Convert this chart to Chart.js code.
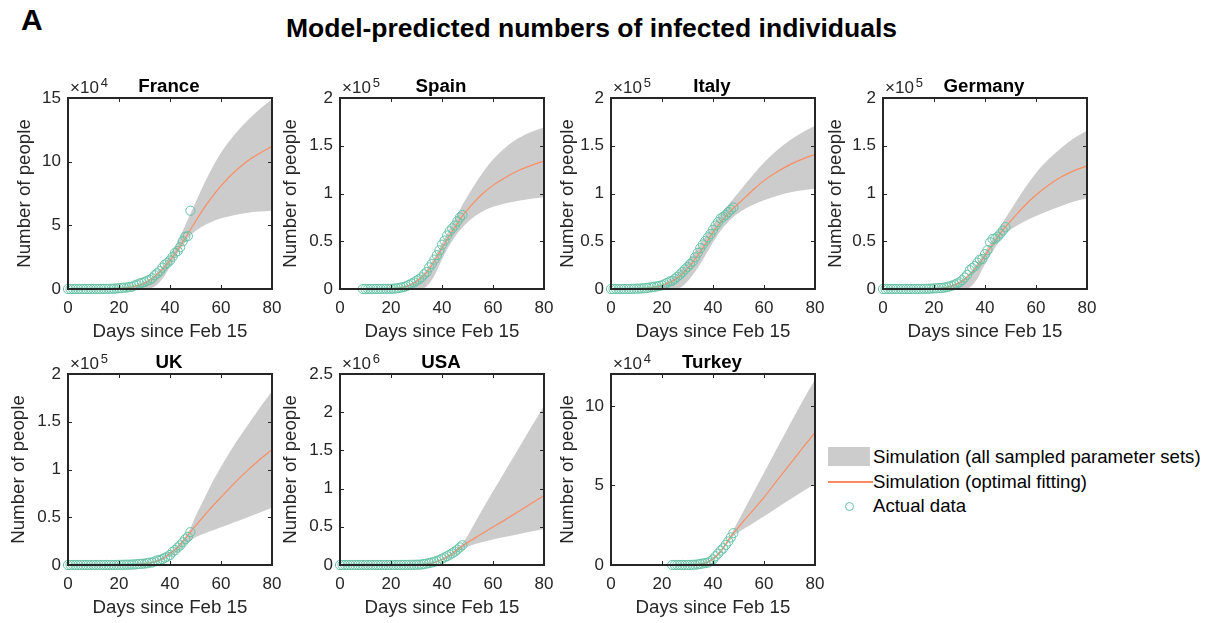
<!DOCTYPE html>
<html lang="en">
<head>
<meta charset="UTF-8">
<title>Model-predicted numbers of infected individuals</title>
<script src="https://cdn.jsdelivr.net/npm/chart.js"></script>
<style>
  body { margin: 0; background: #fff; }
  #page { position: relative; width: 1207px; height: 623px; overflow: hidden;
          font-family: 'Liberation Sans', Arial, Helvetica, sans-serif; color: #262626; }
  #page canvas { position: absolute; }
  .tag { position: absolute; left: 21px; top: 3px; font-size: 30px; line-height: 34px; font-weight: bold; color: #000; }
  .fig-title { position: absolute; left: 0; width: 1183px; top: 13px; text-align: center;
               font-size: 26.5px; line-height: 30px; font-weight: bold; color: #000; }
  .legend { position: absolute; left: 828px; top: 445px; font-size: 18.6px; }
  .legend .row { position: relative; height: 24.5px; line-height: 24.5px; padding-left: 45px; white-space: nowrap; color: #000; }
  .legend .swatch { position: absolute; left: 0; top: 2px; width: 42px; height: 19px; background: #cccccc; }
  .legend .line { position: absolute; left: 0; top: 11px; width: 45px; height: 2px; background: #fc8d62; }
  .legend .dot { position: absolute; left: 17px; top: 8px; width: 7px; height: 7px; border: 1px solid #66c2a5; border-radius: 50%; }
</style>
</head>
<body>
<div id="page">
  <div class="tag">A</div>
  <div class="fig-title">Model-predicted numbers of infected individuals</div>
  <div class="legend">
    <div class="row"><span class="swatch"></span>Simulation (all sampled parameter sets)</div>
    <div class="row"><span class="line"></span>Simulation (optimal fitting)</div>
    <div class="row"><span class="dot"></span>Actual data</div>
  </div>
</div>
<script>
const FONT = "'Liberation Sans', Arial, Helvetica, sans-serif";
const AXIS_COLOR = '#262626';
const GREEN = '#66c2a5';
const ORANGE = '#fc8d62';
const BAND = '#cccccc';
const TICK_SIZE = 17;
const LABEL_SIZE = 18.7;

const dayRange = (a, b) => Array.from({length: b - a + 1}, (_, i) => a + i);

// sample days used for the simulated curves
const simDays = [0, 10, 20, 25, 28, 31, 34, 37, 40, 43, 46, 48, 50, 53, 56, 60, 65, 70, 75, 80];
const spainSimDays = [9, 15, 20, 25, 28, 31, 34, 37, 40, 43, 46, 48, 50, 53, 56, 60, 65, 70, 75, 80];
const turkeySimDays = [24, 28, 31, 34, 37, 40, 43, 46, 48, 50, 53, 56, 60, 65, 70, 75, 80];

// France
const franceDays = dayRange(0, 48);
const franceCases = [8, 8, 7, 7, 7, 7, 7, 7, 7, 24, 24, 24, 24, 44, 87, 116, 177, 194, 270, 366,
  591, 777, 1050, 1115, 1600, 1700, 2700, 3400, 4300, 4900, 5400, 6400, 7200, 8500, 10800, 12300,
  14000, 16800, 19200, 20500, 22400, 25300, 28500, 29800, 32800, 37500, 41000, 41500, 61500];
const franceFit = [0, 20, 500, 1500, 3000, 5600, 9800, 15500, 22500, 30500, 40000, 46500, 53000,
  62500, 71000, 81000, 91500, 100000, 106500, 112000];
const franceHigh = [0, 20, 600, 1800, 3500, 6500, 11000, 17500, 26500, 37500, 50000, 59000, 68000,
  81000, 93000, 107000, 120500, 131500, 141000, 149000];
const franceLow = [0, 0, 0, 0, 0, 0, 2000, 8000, 17500, 28000, 37000, 42000, 45500, 49500, 52500,
  55500, 58000, 59700, 60800, 61500];

// Spain
const spainDays = dayRange(9, 48);
const spainCases = [2, 2, 2, 2, 2, 32, 43, 81, 111, 149, 225, 268, 348, 597, 1000, 1600, 2070, 2900,
  4200, 5700, 6900, 8700, 10200, 12200, 15300, 17800, 22600, 26300, 30800, 35400, 40500, 46400,
  50700, 56000, 60400, 63500, 66500, 70900, 74900, 77500];
const spainFit = [0, 50, 300, 2000, 5000, 10000, 17500, 29000, 43000, 56000, 68500, 76500, 83000,
  92000, 100000, 108500, 117000, 124000, 129500, 134000];
const spainHigh = [0, 60, 400, 2500, 6000, 12000, 20500, 33000, 48000, 63000, 78000, 88000, 97000,
  110000, 122000, 135500, 148500, 158000, 164500, 169000];
const spainLow = [0, 0, 0, 0, 0, 0, 3000, 14000, 31000, 46000, 58000, 64500, 70000, 76500, 81500,
  86000, 89800, 92500, 94500, 96000];

// Italy
const italyDays = dayRange(0, 48);
const italyCases = [3, 3, 3, 3, 3, 3, 17, 59, 131, 216, 311, 385, 588, 821, 1049, 1577, 1835, 2263,
  2706, 3296, 3916, 5061, 6387, 7985, 8514, 10590, 12839, 14955, 17750, 20603, 23073, 26062, 28710,
  33190, 37860, 42681, 46638, 50418, 54030, 57521, 62013, 66414, 70065, 73880, 75528, 77635, 80572,
  83049, 85388];
const italyFit = [0, 300, 3500, 10000, 16000, 24500, 35000, 47000, 59500, 70000, 79000, 84500, 89500,
  97000, 104500, 113500, 122500, 130000, 136000, 141000];
const italyHigh = [0, 400, 5000, 14000, 22000, 32000, 43000, 55000, 67000, 78000, 88000, 94500,
  101000, 111000, 120500, 132500, 145000, 155500, 164000, 171000];
const italyLow = [0, 0, 0, 0, 3000, 11000, 22000, 35000, 49000, 61000, 70500, 75500, 79500, 84500,
  88500, 93000, 97500, 101000, 103500, 105000];

// Germany
const germanyDays = dayRange(0, 48);
const germanyCases = [14, 14, 14, 14, 14, 14, 14, 14, 14, 14, 14, 2, 30, 40, 63, 114, 143, 180, 246,
  466, 654, 780, 1008, 1158, 1489, 1878, 2626, 3507, 4553, 5738, 6992, 9166, 11991, 14857, 19601,
  21898, 23945, 27683, 30727, 31442, 36508, 40711, 48781, 52351, 52740, 54933, 57957, 61247, 64827];
const germanyFit = [0, 10, 300, 1800, 4000, 8000, 15000, 24000, 35000, 47000, 58000, 65000, 71000,
  80000, 88500, 98500, 109000, 117500, 124000, 129000];
const germanyHigh = [0, 15, 400, 2300, 5000, 10000, 17000, 27000, 39000, 52000, 65000, 74000, 82500,
  95000, 107000, 121500, 136000, 148000, 158000, 166000];
const germanyLow = [0, 0, 0, 0, 0, 0, 1500, 11000, 26000, 39500, 51000, 57500, 62000, 67000, 71500,
  76500, 82000, 87000, 91500, 95000];

// UK
const ukDays = dayRange(0, 48);
const ukCases = [8, 8, 8, 8, 8, 8, 8, 8, 8, 8, 8, 8, 8, 8, 15, 28, 31, 43, 61, 94, 145, 186, 251,
  290, 348, 430, 562, 768, 1100, 1300, 1450, 1860, 2550, 2600, 3741, 4800, 5300, 6200, 7600, 8800,
  10500, 13800, 15600, 18300, 20600, 23700, 27000, 29500, 34400];
const ukFit = [0, 10, 150, 450, 900, 1600, 3200, 6500, 12000, 18500, 27500, 34500, 41000, 50500,
  59500, 71000, 85000, 98000, 110000, 121000];
const ukHigh = [0, 12, 200, 550, 1100, 2000, 4000, 8000, 13500, 20500, 30000, 38500, 51000, 67000,
  83500, 103000, 125000, 144500, 164000, 182000];
const ukLow = [0, 5, 100, 350, 700, 1200, 2500, 5000, 9000, 14000, 21000, 25500, 29000, 32500,
  35500, 39500, 44500, 49500, 54800, 60000];

// USA
const usaDays = dayRange(0, 48);
const usaCases = [12, 12, 12, 12, 12, 12, 12, 12, 12, 12, 12, 12, 12, 12, 12, 12, 30, 50, 65, 130,
  200, 250, 350, 460, 700, 940, 1200, 1600, 2100, 2700, 3500, 4600, 6300, 13000, 18700, 25400,
  33300, 42700, 52900, 64500, 82600, 99100, 116000, 134000, 153000, 175000, 201000, 230000, 259000];
const usaFit = [0, 10, 200, 900, 2000, 4500, 12000, 33000, 72000, 125000, 200000, 250000, 293000,
  355000, 417000, 497000, 597000, 700000, 805000, 910000];
const usaHigh = [0, 12, 250, 1100, 2500, 5500, 15000, 40000, 85000, 145000, 220000, 285000, 380000,
  560000, 735000, 965000, 1245000, 1525000, 1805000, 2080000];
const usaLow = [0, 8, 150, 700, 1600, 3500, 9500, 27000, 60000, 100000, 160000, 205000, 240000,
  275000, 302000, 335000, 370000, 403000, 437000, 470000];

// Turkey
const turkeyDays = dayRange(24, 48);
const turkeyCases = [0, 1, 1, 5, 5, 6, 18, 47, 98, 191, 355, 667, 945, 1229, 1512, 2348, 3540, 5502,
  7165, 9054, 10497, 12686, 14766, 17357, 20012];
const turkeyFit = [0, 20, 80, 400, 1300, 3800, 8500, 15500, 20000, 23800, 29400, 35000, 42500,
  52800, 63000, 73200, 83300];
const turkeyHigh = [0, 25, 100, 500, 1600, 4500, 9500, 16500, 22000, 28000, 37000, 46000, 58000,
  73000, 88000, 102500, 116500];
const turkeyLow = [0, 15, 60, 300, 1000, 3000, 7500, 14000, 18000, 20500, 23500, 26500, 30600,
  35800, 41000, 46000, 51000];

// axis limits per country: y max, y tick values, exponent shown above the axis
const countries = ['France', 'Spain', 'Italy', 'Germany', 'UK', 'USA', 'Turkey'];
const yMax = [150000, 200000, 200000, 200000, 200000, 2500000, 120000];
const yTicks = [
  [0, 50000, 100000, 150000],
  [0, 50000, 100000, 150000, 200000],
  [0, 50000, 100000, 150000, 200000],
  [0, 50000, 100000, 150000, 200000],
  [0, 50000, 100000, 150000, 200000],
  [0, 500000, 1000000, 1500000, 2000000, 2500000],
  [0, 50000, 100000],
];
const xTicks = [0, 20, 40, 60, 80];
const yExp = [4, 5, 5, 5, 5, 6, 4];

const series = [
  [franceDays, franceCases, simDays, franceFit, franceHigh, franceLow],
  [spainDays, spainCases, spainSimDays, spainFit, spainHigh, spainLow],
  [italyDays, italyCases, simDays, italyFit, italyHigh, italyLow],
  [germanyDays, germanyCases, simDays, germanyFit, germanyHigh, germanyLow],
  [ukDays, ukCases, simDays, ukFit, ukHigh, ukLow],
  [usaDays, usaCases, simDays, usaFit, usaHigh, usaLow],
  [turkeyDays, turkeyCases, turkeySimDays, turkeyFit, turkeyHigh, turkeyLow],
];

// placement of each axes box on the page
const layout = [
  {left: 68, top: 98, yTitleGap: 43},
  {left: 340, top: 98, yTitleGap: 49},
  {left: 611, top: 98, yTitleGap: 43},
  {left: 883, top: 98, yTitleGap: 47},
  {left: 68, top: 374, yTitleGap: 49},
  {left: 340, top: 374, yTitleGap: 49},
  {left: 611, top: 374, yTitleGap: 43},
];
const PLOT_W = 204, PLOT_H = 191;
const Y_AXIS_W = 72, X_AXIS_H = 54, TOP_SPACE = 38, RIGHT_SPACE = 20;

const toXY = (xs, ys) => xs.map((x, i) => ({x, y: ys[i]}));

// box around the axes, inward tick marks on all sides, panel title and the x10^n factor
const axesBox = {
  id: 'axesBox',
  afterDraw(chart, args, opts) {
    const {ctx, chartArea: a, scales: {x, y}} = chart;
    ctx.save();
    ctx.strokeStyle = AXIS_COLOR;
    ctx.lineWidth = 1;
    ctx.beginPath();
    x.ticks.forEach(t => {
      const px = Math.round(x.getPixelForValue(t.value)) + 0.5;
      ctx.moveTo(px, a.bottom); ctx.lineTo(px, a.bottom - 4);
      ctx.moveTo(px, a.top); ctx.lineTo(px, a.top + 4);
    });
    y.ticks.forEach(t => {
      const py = Math.round(y.getPixelForValue(t.value)) + 0.5;
      ctx.moveTo(a.left, py); ctx.lineTo(a.left + 4, py);
      ctx.moveTo(a.right, py); ctx.lineTo(a.right - 4, py);
    });
    ctx.stroke();
    ctx.lineWidth = 2;
    ctx.strokeRect(a.left, a.top, a.right - a.left, a.bottom - a.top);

    ctx.textBaseline = 'alphabetic';
    ctx.fillStyle = '#000';
    ctx.textAlign = 'center';
    ctx.font = 'bold ' + LABEL_SIZE + 'px ' + FONT;
    ctx.fillText(opts.title, (a.left + a.right) / 2 - 1, a.top - 6);

    ctx.fillStyle = AXIS_COLOR;
    ctx.textAlign = 'left';
    ctx.font = TICK_SIZE + 'px ' + FONT;
    ctx.fillText('\u00d710', a.left + 2, a.top - 5.5);
    const w = ctx.measureText('\u00d710').width;
    ctx.font = '13px ' + FONT;
    ctx.fillText(String(opts.exponent), a.left + 4 + w, a.top - 11);
    ctx.restore();
  }
};

const page = document.getElementById('page');

countries.forEach((name, i) => {
  const [days, cases, sDays, fit, high, low] = series[i];
  const pos = layout[i];
  const mult = Math.pow(10, yExp[i]);

  const canvas = document.createElement('canvas');
  canvas.width = Y_AXIS_W + PLOT_W + RIGHT_SPACE;
  canvas.height = TOP_SPACE + PLOT_H + X_AXIS_H + 2;
  canvas.style.left = (pos.left - Y_AXIS_W) + 'px';
  canvas.style.top = (pos.top - TOP_SPACE) + 'px';
  page.appendChild(canvas);

  const curve = {pointRadius: 0, cubicInterpolationMode: 'monotone'};

  new Chart(canvas.getContext('2d'), {
    type: 'line',
    data: {
      datasets: [
        {
          label: 'Actual data',
          data: toXY(days, cases),
          showLine: false,
          pointRadius: 4.6,
          pointBorderWidth: 1,
          pointBorderColor: GREEN,
          pointBackgroundColor: 'rgba(0,0,0,0)',
          clip: false
        },
        {
          label: 'Simulation (optimal fitting)',
          data: toXY(sDays, fit),
          borderColor: ORANGE,
          borderWidth: 1.2,
          fill: false,
          ...curve
        },
        {
          label: 'Simulation (all sampled parameter sets)',
          data: toXY(sDays, high),
          borderColor: 'rgba(0,0,0,0)',
          borderWidth: 1,
          backgroundColor: BAND,
          fill: '+1',
          ...curve
        },
        {
          label: 'lower bound',
          data: toXY(sDays, low),
          borderColor: 'rgba(0,0,0,0)',
          borderWidth: 1,
          fill: false,
          ...curve
        }
      ]
    },
    options: {
      responsive: false,
      animation: false,
      events: [],
      layout: {padding: {left: 0, right: RIGHT_SPACE, top: TOP_SPACE, bottom: 2}},
      plugins: {
        legend: {display: false},
        tooltip: {enabled: false},
        axesBox: {exponent: yExp[i], title: name}
      },
      scales: {
        x: {
          type: 'linear',
          min: 0,
          max: 80,
          grid: {display: false, drawTicks: false},
          border: {display: false},
          afterBuildTicks: s => { s.ticks = xTicks.map(v => ({value: v})); },
          ticks: {color: AXIS_COLOR, padding: 9, font: {family: FONT, size: TICK_SIZE}},
          title: {display: true, text: 'Days since Feb 15', color: AXIS_COLOR,
                  font: {family: FONT, size: LABEL_SIZE}, padding: {top: 0, bottom: 0}},
          afterFit: s => { s.height = X_AXIS_H; }
        },
        y: {
          min: 0,
          max: yMax[i],
          grid: {display: false, drawTicks: false},
          border: {display: false},
          afterBuildTicks: s => { s.ticks = yTicks[i].map(v => ({value: v})); },
          ticks: {
            color: AXIS_COLOR,
            padding: 7,
            font: {family: FONT, size: TICK_SIZE},
            callback: v => String(Math.round(v / mult * 100) / 100)
          },
          title: {display: true, text: 'Number of people', color: AXIS_COLOR,
                  font: {family: FONT, size: LABEL_SIZE},
                  padding: {top: Y_AXIS_W - pos.yTitleGap - LABEL_SIZE * 0.6, bottom: 0}},
          afterFit: s => { s.width = Y_AXIS_W; }
        }
      }
    },
    plugins: [axesBox]
  });
});
</script>
</body>
</html>
